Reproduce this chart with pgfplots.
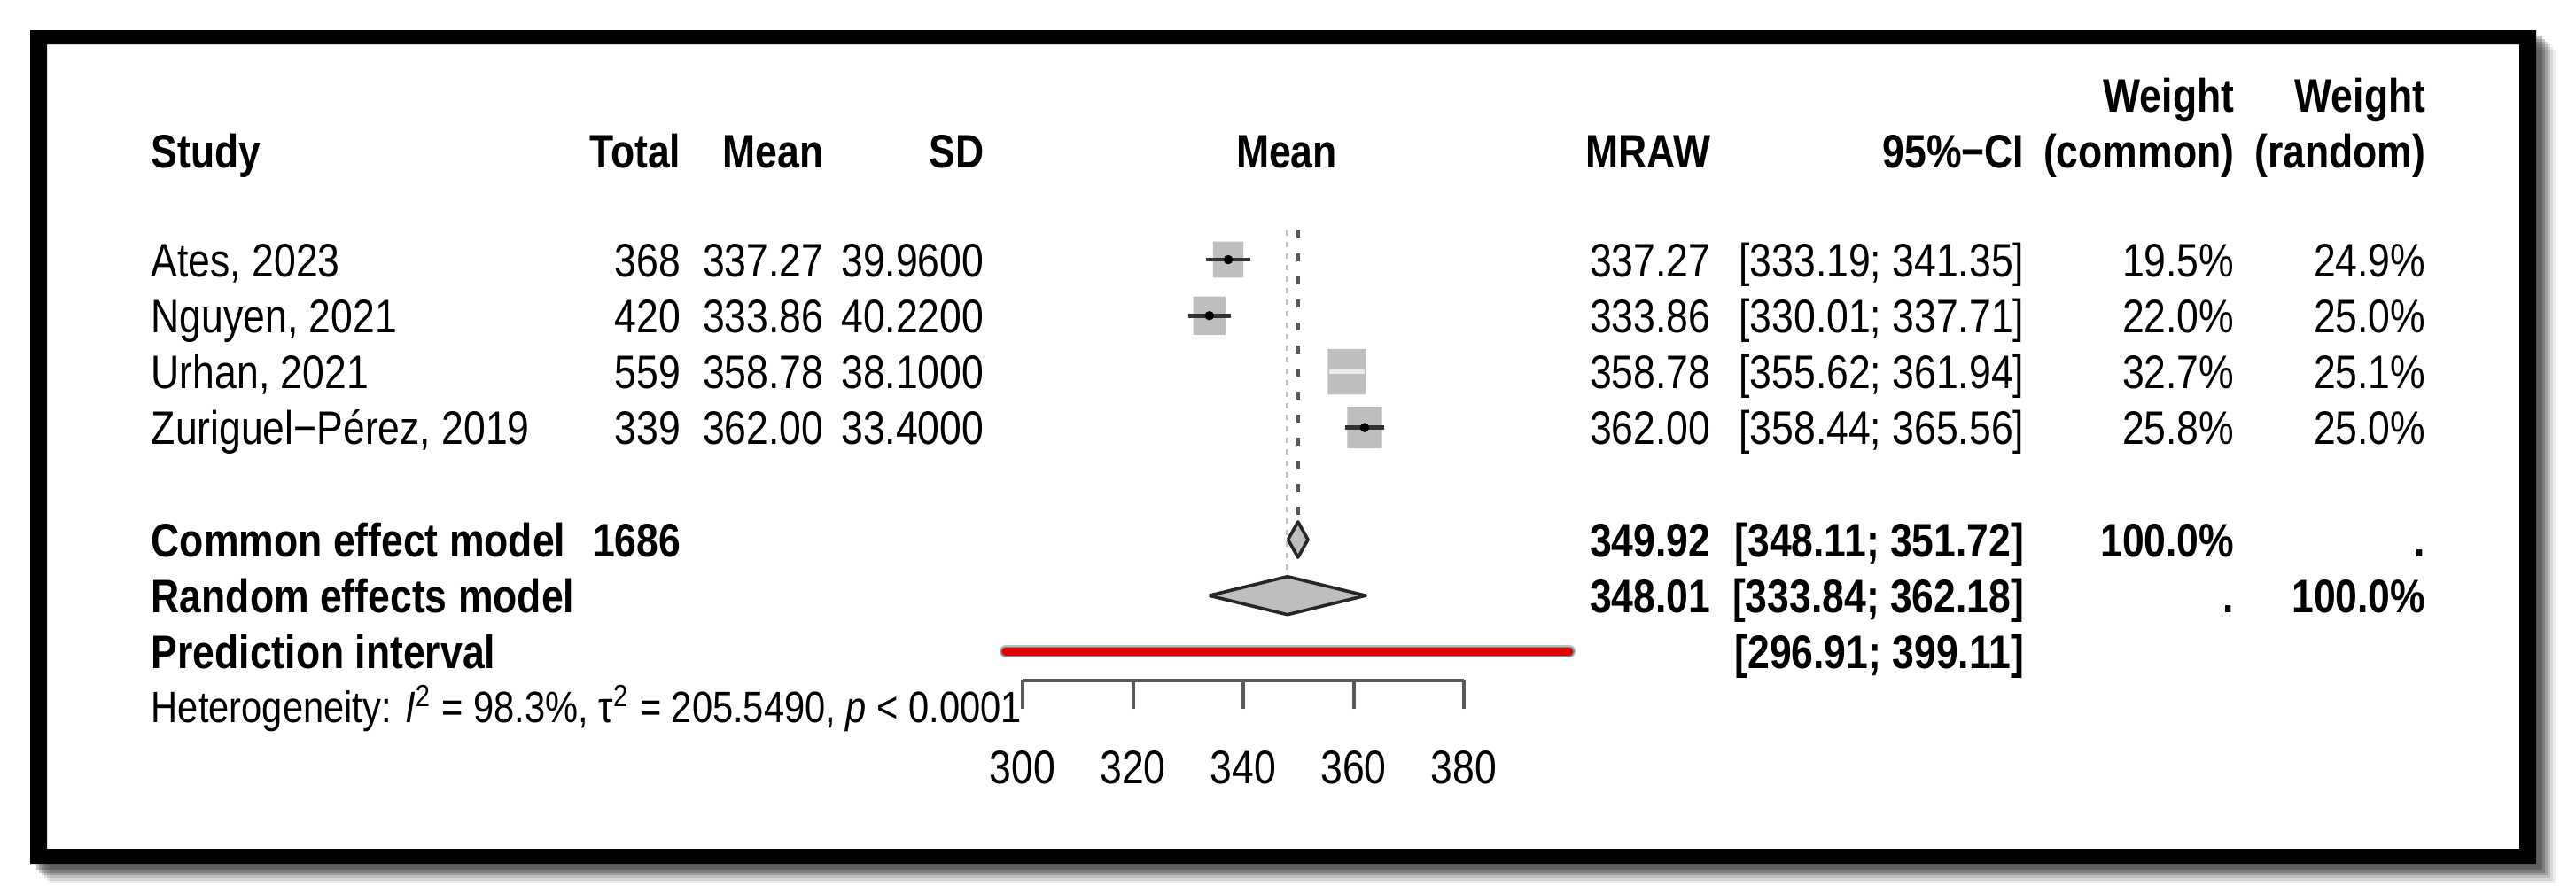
\documentclass[border=0pt]{standalone}
\usepackage{fontspec}
\setmainfont{Liberation Sans}[FakeStretch=0.84]
\usepackage{pgfplots}
\pgfplotsset{compat=1.18}
\definecolor{sqgray}{HTML}{BEBEBE}
\definecolor{axgray}{HTML}{5A5A5A}
\definecolor{predrim}{HTML}{A9C4C8}
\definecolor{predmid}{HTML}{8A8A8A}
\definecolor{predred}{HTML}{E00000}
\definecolor{refgray}{HTML}{C4C4C4}
\definecolor{refdark}{HTML}{555555}
\newcommand{\mf}{\fontsize{13.25pt}{15pt}\selectfont}
\newcommand{\hf}{\fontsize{12.4pt}{14pt}\selectfont}
\newcommand{\R}[3]{\node[anchor=base east] at (#1,#2) {#3};}
\newcommand{\Lt}[3]{\node[anchor=base west] at (#1,#2) {#3};}
\begin{document}
\begin{tikzpicture}
\useasboundingbox (0,0) rectangle (726.75pt,-252pt);
\begin{scope}[x=0.25pt,y=-0.25pt]
  \foreach \o/\op in {22/0.07,19/0.09,16/0.12,13/0.16,10/0.2,7/0.24} {
    \fill[black,opacity=\op] (34+\o,34+\o) rectangle (2862+\o,975+\o);
  }
  \fill[white] (53,50) rectangle (2843,958);
  \fill[black,even odd rule] (34,34) rectangle (2862,975) (53,50) rectangle (2843,958);
\end{scope}

\begin{axis}[
  at={(288.5pt,-192pt)}, anchor=south west,
  scale only axis, width=124.5pt, height=118.75pt,
  xmin=300, xmax=380, ymin=-7.516, ymax=0,
  clip=false, axis y line=none, axis x line*=bottom,
  x axis line style={draw=axgray, line width=1pt},
  xtick={300,320,340,360,380}, tick align=outside, major tick length=8pt,
  tick style={draw=axgray, line width=1pt},
  /pgf/number format/assume math mode=true,
  xticklabel style={font=\mf, anchor=base, yshift=-21pt},
  enlargelimits=false,
]
% reference lines
\addplot[refgray, line width=0.7pt, dash pattern=on 1.5pt off 1.75pt] coordinates {(348.01,0.52) (348.01,-5.6)};
\addplot[refdark, line width=1pt, dash pattern=on 2.3pt off 4.2pt] coordinates {(349.92,0.52) (349.92,-4.65)};
% study squares (area proportional to common-effect weight)
\addplot[fill=sqgray, draw=none] coordinates {(334.52,0.323) (340.02,0.323) (340.02,-0.323) (334.52,-0.323) (334.52,0.323)};
\addplot[fill=sqgray, draw=none] coordinates {(330.94,-0.658) (336.78,-0.658) (336.78,-1.342) (330.94,-1.342) (330.94,-0.658)};
\addplot[fill=sqgray, draw=none] coordinates {(355.33,-1.595) (362.23,-1.595) (362.23,-2.405) (355.33,-2.405) (355.33,-1.595)};
\addplot[fill=sqgray, draw=none] coordinates {(358.84,-2.63) (365.16,-2.63) (365.16,-3.37) (358.84,-3.37) (358.84,-2.63)};
% confidence intervals
\addplot[black!80, line width=1.2pt] coordinates {(333.19,0) (341.35,0)};
\addplot[black!80, line width=1.2pt] coordinates {(330.01,-1) (337.71,-1)};
\addplot[white!92!black, line width=1.1pt] coordinates {(355.62,-2) (361.94,-2)};
\addplot[black!80, line width=1.2pt] coordinates {(358.44,-3) (365.56,-3)};
\addplot[only marks, mark=*, mark size=1.1pt, mark options={black}] coordinates {(337.27,0) (333.86,-1) (362.00,-3)};
% diamonds
\addplot[fill=sqgray, draw=black!85, line width=0.9pt, line join=round] coordinates {(348.11,-5) (349.92,-4.683) (351.72,-5) (349.92,-5.317) (348.11,-5)};
\addplot[fill=sqgray, draw=black!85, line width=0.9pt, line join=round] coordinates {(333.84,-6) (348.01,-5.66) (362.18,-6) (348.01,-6.34) (333.84,-6)};
% prediction interval
\addplot[predrim, line width=3.5pt, line cap=round] coordinates {(296.91,-7) (399.11,-7)};
\addplot[predmid, line width=2.9pt, line cap=round] coordinates {(296.91,-7) (399.11,-7)};
\addplot[predred, line width=2.1pt, line cap=round] coordinates {(296.91,-7) (399.11,-7)};
\end{axis}

\begin{scope}[x=0.25pt,y=-0.25pt, every node/.style={font=\mf, inner sep=0pt}]
  % header
  \R{2522}{126}{\bfseries Weight}
  \R{2738}{126}{\bfseries Weight}
  \Lt{170}{189}{\bfseries Study}
  \R{769}{189}{\bfseries Total}
  \R{930}{189}{\bfseries Mean}
  \R{1111}{189}{\bfseries SD}
  \node[anchor=base] at (1452,189) {\bfseries Mean};
  \R{1931}{189}{\bfseries MRAW}
  \R{2285}{189}{\bfseries 95\%−CI}
  \R{2522}{189}{\bfseries (common)}
  \R{2738}{189}{\bfseries (random)}
  % studies
  \Lt{170}{312}{Ates, 2023}
  \R{769}{312}{368}\R{930}{312}{337.27}\R{1111}{312}{39.9600}
  \R{1931}{312}{337.27}\R{2285}{312}{[333.19; 341.35]}\R{2522}{312}{19.5\%}\R{2738}{312}{24.9\%}
  \Lt{170}{375.2}{Nguyen, 2021}
  \R{769}{375.2}{420}\R{930}{375.2}{333.86}\R{1111}{375.2}{40.2200}
  \R{1931}{375.2}{333.86}\R{2285}{375.2}{[330.01; 337.71]}\R{2522}{375.2}{22.0\%}\R{2738}{375.2}{25.0\%}
  \Lt{170}{438.4}{Urhan, 2021}
  \R{769}{438.4}{559}\R{930}{438.4}{358.78}\R{1111}{438.4}{38.1000}
  \R{1931}{438.4}{358.78}\R{2285}{438.4}{[355.62; 361.94]}\R{2522}{438.4}{32.7\%}\R{2738}{438.4}{25.1\%}
  \Lt{170}{501.6}{Zuriguel−Pérez, 2019}
  \R{769}{501.6}{339}\R{930}{501.6}{362.00}\R{1111}{501.6}{33.4000}
  \R{1931}{501.6}{362.00}\R{2285}{501.6}{[358.44; 365.56]}\R{2522}{501.6}{25.8\%}\R{2738}{501.6}{25.0\%}
  % models
  \Lt{170}{628}{\bfseries Common effect model}
  \R{769}{628}{\bfseries 1686}
  \R{1931}{628}{\bfseries 349.92}\R{2285}{628}{\bfseries [348.11; 351.72]}\R{2522}{628}{\bfseries 100.0\%}\R{2738}{628}{\bfseries .}
  \Lt{170}{691.2}{\bfseries Random effects model}
  \R{1931}{691.2}{\bfseries 348.01}\R{2285}{691.2}{\bfseries [333.84; 362.18]}\R{2522}{691.2}{\bfseries .}\R{2738}{691.2}{\bfseries 100.0\%}
  \Lt{170}{754.4}{\bfseries Prediction interval}
  \R{2285}{754.4}{\bfseries [296.91; 399.11]}
  \node[anchor=base west, font=\hf] at (170,815) {Heterogeneity: \textit{I}\textsuperscript{2} = 98.3\%, τ\textsuperscript{2} = 205.5490, \textit{p} < 0.0001};
\end{scope}
\end{tikzpicture}
\end{document}
